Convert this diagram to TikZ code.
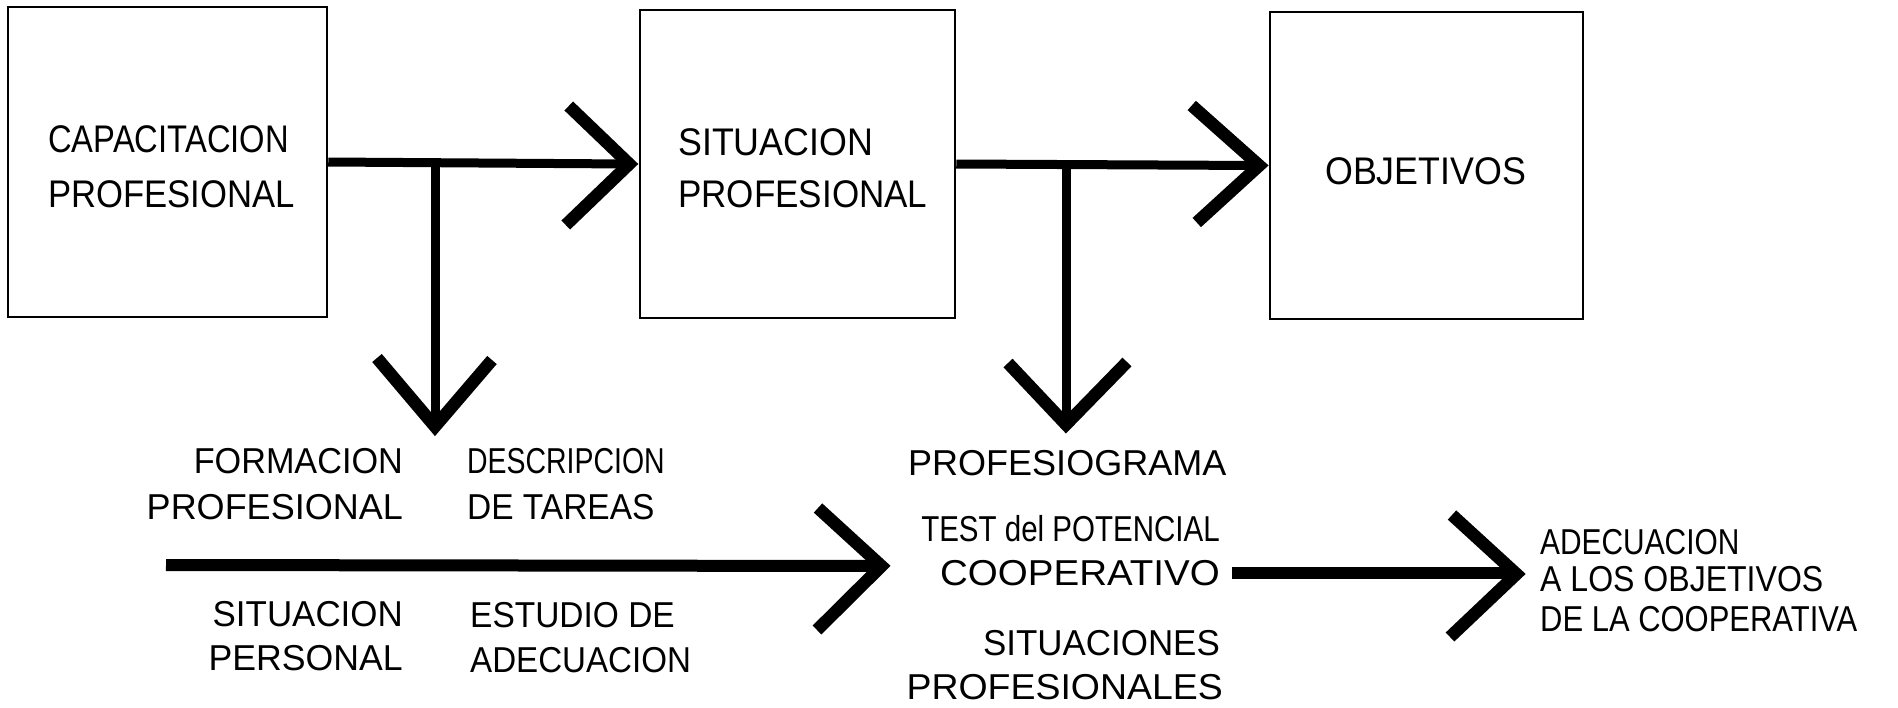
\documentclass[tikz,border=0pt]{standalone}
\usepackage{fontspec}
\setmainfont{Liberation Sans}
\usetikzlibrary{calc}
\newcommand{\sx}[2]{\scalebox{#1}[1]{#2}}
\begin{document}
\begin{tikzpicture}[x=1pt,y=-1pt,
  box/.style={draw, line width=2.5pt, inner sep=0pt},
  big/.style={font=\fontsize{38.5}{40}\selectfont, inner sep=0pt, text height=27.5pt, text depth=0pt},
  lab/.style={font=\fontsize{36}{40}\selectfont, inner sep=0pt, text height=25.8pt, text depth=0pt},
  shaft/.style={line width=9pt, line cap=butt},
  thickshaft/.style={line width=12pt, line cap=butt},
  chev/.style={line width=12.5pt, line join=miter, miter limit=10, line cap=butt}]
\fill[white] (0,0) rectangle (1898,707);
\useasboundingbox (0,0) rectangle (1898,707);

% boxes
\node[box, minimum width=319pt, minimum height=310pt] (b1) at (167.5,162) {};
\node[box, minimum width=315pt, minimum height=308pt] (b2) at (797.5,164) {};
\node[box, minimum width=313pt, minimum height=307pt] (b3) at (1426.5,165.5) {};

% box texts
\node[big, anchor=west] (t11) at (48,139) {\sx{0.85}{CAPACITACION}};
\node[big, anchor=west] (t12) at (48,194) {\sx{0.90}{PROFESIONAL}};
\node[big, anchor=west] (t21) at (678,142) {\sx{0.93}{SITUACION}};
\node[big, anchor=west] (t22) at (678,194) {\sx{0.91}{PROFESIONAL}};
\node[big, anchor=west] (t31) at (1325,171) {\sx{0.93}{OBJETIVOS}};

% lower left texts
\node[lab, anchor=east] (l1) at (403,461) {\sx{0.95}{FORMACION}};
\node[lab, anchor=east] (l2) at (403,507) {\sx{1.0}{PROFESIONAL}};
\node[lab, anchor=west] (l3) at (467,461) {\sx{0.79}{DESCRIPCION}};
\node[lab, anchor=west] (l4) at (467,507) {\sx{0.93}{DE TAREAS}};
\node[lab, anchor=east] (l5) at (403,614) {\sx{0.97}{SITUACION}};
\node[lab, anchor=east] (l6) at (403,658) {\sx{0.99}{PERSONAL}};
\node[lab, anchor=west] (l7) at (470,615) {\sx{0.93}{ESTUDIO DE}};
\node[lab, anchor=west] (l8) at (470,660) {\sx{0.92}{ADECUACION}};

% middle texts
\node[lab, anchor=west] (m1) at (908,463) {\sx{1.0}{PROFESIOGRAMA}};
\node[lab, anchor=east] (m2) at (1220,529) {\sx{0.82}{TEST del POTENCIAL}};
\node[lab, anchor=east] (coop) at (1220,573) {\sx{1.07}{COOPERATIVO}};
\node[lab, anchor=east] (m4) at (1220,643) {\sx{0.97}{SITUACIONES}};
\node[lab, anchor=east] (m5) at (1223,687) {\sx{1.04}{PROFESIONALES}};

% right texts
\node[lab, anchor=west] (r1) at (1540,542) {\sx{0.83}{ADECUACION}};
\node[lab, anchor=west] (r2) at (1540,579) {\sx{0.89}{A LOS OBJETIVOS}};
\node[lab, anchor=west] (r3) at (1540,619) {\sx{0.86}{DE LA COOPERATIVA}};

% arrow 1: b1 -> b2
\coordinate (tip1) at (b2.west);
\draw[shaft] (b1.east) -- ($(tip1)+(-9,0)$);
\draw[chev] ($(tip1)+(-70,-58)$) -- ($(tip1)+(-9.5,0)$) -- ($(tip1)+(-73,61)$);

% branch 1 down
\coordinate (j1) at (435,162);
\coordinate (d1) at (435,437);
\draw[shaft] (j1) -- ($(d1)+(0,-10)$);
\draw[chev] ($(d1)+(-58,-79)$) -- ($(d1)+(0,-10.5)$) -- ($(d1)+(57,-77)$);

% arrow 2: b2 -> b3
\coordinate (tip2) at (b3.west);
\draw[shaft] (b2.east) -- ($(tip2)+(-9,0)$);
\draw[chev] ($(tip2)+(-77,-60)$) -- ($(tip2)+(-9.5,0)$) -- ($(tip2)+(-72,57)$);

% branch 2 down
\coordinate (j2) at (1066,164);
\coordinate (d2) at (1066,435);
\draw[shaft] (j2) -- ($(d2)+(0,-10)$);
\draw[chev] ($(d2)+(-58,-72)$) -- ($(d2)+(0,-10.5)$) -- ($(d2)+(61,-73)$);

% long lower arrow
\coordinate (s3) at (166,565);
\coordinate (tip3) at (891,566);
\draw[thickshaft] (s3) -- ($(tip3)+(-9,0)$);
\draw[chev] ($(tip3)+(-73,-58)$) -- ($(tip3)+(-9.5,0)$) -- ($(tip3)+(-74,64)$);

% arrow 4: COOPERATIVO -> ADECUACION block
\coordinate (tip4) at (1526,574);
\draw[thickshaft, shorten <=12pt] (coop.east) -- ($(coop.east -| tip4)+(-9,0)$);
\draw[chev] ($(tip4)+(-74,-59)$) -- ($(tip4)+(-9.5,0)$) -- ($(tip4)+(-76,63)$);
\end{tikzpicture}
\end{document}
